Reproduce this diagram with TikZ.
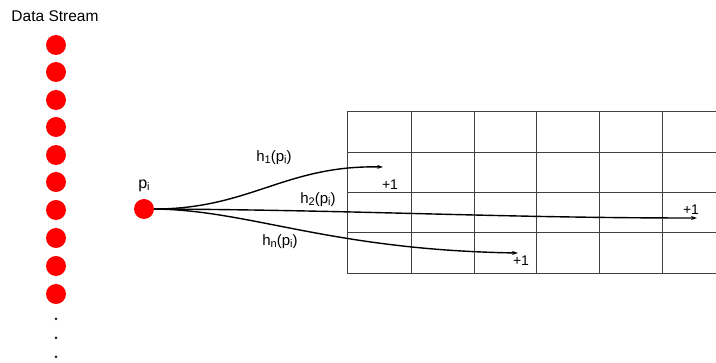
\documentclass[tikz,border=0pt]{standalone}
\usepackage{fontspec}
\setmainfont{Liberation Sans}
\usetikzlibrary{arrows.meta}
\begin{document}
\begin{tikzpicture}[x=1pt,y=-1pt,
  item/.style={circle,fill=red,draw=none,minimum size=20pt,inner sep=0pt},
  ellip/.style={circle,fill=black!85,draw=none,minimum size=3pt,inner sep=0pt},
  gridline/.style={draw=black!75,line width=0.9pt},
  hash/.style={line width=1.4pt,-{Stealth[length=6pt,width=4pt]}},
  lbl/.style={font=\fontsize{15}{17}\selectfont,inner sep=0pt},
  inc/.style={font=\fontsize{14}{16}\selectfont,inner sep=0pt}]
\useasboundingbox (0,0) rectangle (716,363);
\newcommand{\sbs}[1]{\raisebox{-0.2ex}{\fontsize{11}{12}\selectfont #1}}

% stream of incoming items
\node[font=\fontsize{15.5}{18}\selectfont,inner sep=0pt] (title) at (55,16) {Data Stream};
\foreach \k/\yy in {1/45,2/72,3/100,4/127,5/155,6/182,7/210,8/238,9/266,10/294}
  \node[item] (s\k) at (56,\yy) {};
\foreach \k/\yy in {1/319,2/338,3/357}
  \node[ellip] (d\k) at (56,\yy) {};

% counter table
\foreach \yy in {111,152,192,232,273}
  \draw[gridline] (347,\yy) -- (716,\yy);
\foreach \xx in {347,411,474,536,599,662}
  \draw[gridline] (\xx,111) -- (\xx,273);

% current item and its hashed positions
\node[item] (p) at (144,209) {};
\node[font=\fontsize{16}{18}\selectfont,inner sep=0pt] (plbl) at (144,186) {p\sbs{i}};

\coordinate (t1) at (383,167);
\coordinate (t2) at (697,218);
\coordinate (tn) at (518,253);

\draw[hash] (p.east) .. controls (250,209) and (285,165) .. (t1);
\draw[hash] (p.east) .. controls (360,210) and (500,218) .. (t2);
\draw[hash] (p.east) .. controls (250,210) and (330,250) .. (tn);

\node[lbl] (h1) at (274,158) {h\sbs{1}(p\sbs{i})};
\node[lbl] (h2) at (318,200) {h\sbs{2}(p\sbs{i})};
\node[lbl] (hn) at (280,242) {h\sbs{n}(p\sbs{i})};

\node[inc] (c1) at (390,185) {+1};
\node[inc] (c2) at (691,210) {+1};
\node[inc] (cn) at (521,261) {+1};
\end{tikzpicture}
\end{document}
